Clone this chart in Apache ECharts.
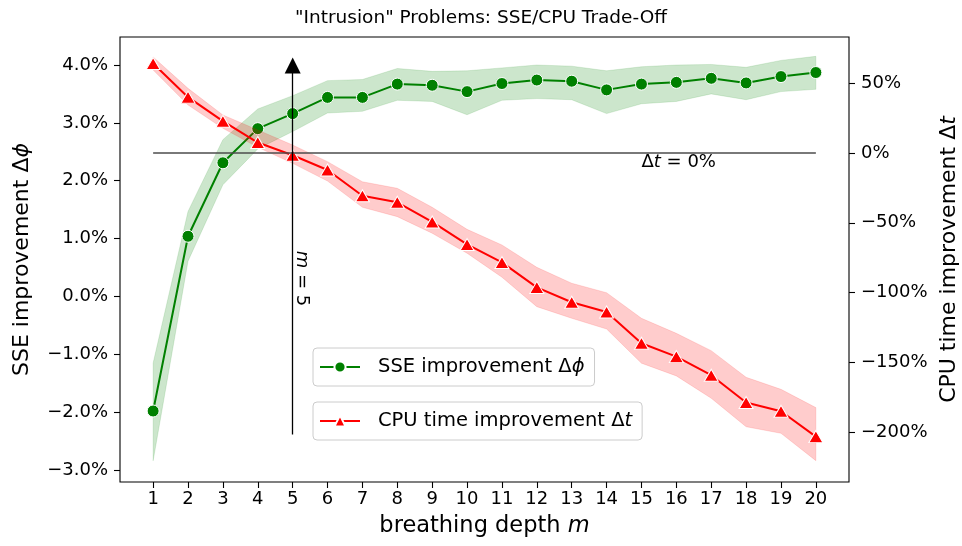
<!DOCTYPE html>
<html>
<head>
<meta charset="utf-8">
<script src="https://cdn.jsdelivr.net/npm/echarts@6/dist/echarts.min.js"></script>
<style>
  html, body { margin: 0; padding: 0; background: #fff; }
  #chart { width: 962px; height: 546px; }
</style>
</head>
<body>
<div id="chart"></div>
<script>
// ---- data ----
const depth = [1,2,3,4,5,6,7,8,9,10,11,12,13,14,15,16,17,18,19,20];
const sseMean  = [-1.98, 1.04, 2.31, 2.90, 3.16, 3.44, 3.44, 3.67, 3.65, 3.54, 3.68, 3.74, 3.72, 3.57, 3.67, 3.70, 3.77, 3.69, 3.80, 3.87];
const sseUpper = [-1.15, 1.47, 2.71, 3.24, 3.47, 3.73, 3.75, 3.94, 3.89, 3.90, 3.95, 4.00, 3.98, 3.90, 3.97, 4.00, 4.01, 3.96, 4.08, 4.15];
const sseLower = [-2.84, 0.61, 1.93, 2.55, 2.85, 3.17, 3.20, 3.39, 3.37, 3.14, 3.39, 3.42, 3.40, 3.16, 3.33, 3.37, 3.50, 3.40, 3.54, 3.58];
const cpuMean  = [64.1, 40.0, 22.8, 7.5, -1.6, -12.2, -30.6, -35.3, -49.4, -65.5, -78.4, -96.3, -106.9, -113.9, -136.3, -145.9, -159.2, -178.7, -185.0, -203.2];
const cpuUpper = [68.8, 46.3, 27.2, 16.5, 5.7, -6.2, -20.6, -25.3, -38.9, -54.7, -65.9, -81.9, -93.3, -100.1, -118.4, -129.2, -141.6, -160.7, -169.3, -182.4];
const cpuLower = [59.5, 34.4, 17.7, 4.1, -7.4, -20.1, -38.9, -45.6, -57.5, -71.8, -89.0, -110.1, -118.4, -126.1, -150.6, -159.7, -175.7, -196.1, -200.8, -220.4];

const xTicks = depth;
const sseTicks = [-3, -2, -1, 0, 1, 2, 3, 4];
const cpuTicks = [-200, -150, -100, -50, 0, 50];

const sseName = 'SSE improvement Δϕ';
const cpuName = 'CPU time improvement Δt';
const titleText = '"Intrusion" Problems: SSE/CPU Trade-Off';

// annotations (data coordinates)
const markDepth = 5;
const arrowFrom = -2.385, arrowTo = 3.99;
const zeroLineFrom = 1, zeroLineTo = 20, zeroValue = 0;
const zeroLabelAt = [15, -6.4];
const depthLabelAt = [5.26, 0.31];

// ---- build ----
const pair = (xs, ys) => xs.map((x, i) => [x, ys[i]]);
const minus = v => (v < 0 ? '\u2212' : '') + Math.abs(v);

const FONT = 'DejaVu Sans';
const GREEN = '#008000';
const RED = '#ff0000';

function bandSeries(name, yAxisIndex, lower, upper, fill, edge, z) {
  return {
    name, type: 'custom', xAxisIndex: 0, yAxisIndex, silent: true, z,
    data: depth.map((x, i) => [x, lower[i], upper[i]]),
    encode: { x: 0, y: [1, 2] },
    clip: true,
    renderItem: (params, api) => {
      if (params.dataIndex !== 0) return { type: 'group', children: [] };
      const top = depth.map((x, i) => api.coord([x, upper[i]]));
      const bot = depth.map((x, i) => api.coord([x, lower[i]])).reverse();
      return {
        type: 'polygon',
        shape: { points: top.concat(bot) },
        style: { fill: fill, stroke: edge, lineWidth: 1 }
      };
    }
  };
}

const chart = echarts.init(document.getElementById('chart'), null, { renderer: 'canvas' });

const legendText = () => ({
  fontFamily: FONT, fontSize: 19.5, color: '#000', padding: [0, 0, 0, 13],
  rich: {
    r: { fontFamily: FONT, fontSize: 19.5, color: '#000' },
    i: { fontFamily: FONT, fontSize: 19.5, fontStyle: 'italic', color: '#000' }
  }
});

const noteRich = {
  u: { fontFamily: FONT, fontSize: 18, color: '#000', opacity: 1 },
  i: { fontFamily: FONT, fontSize: 18, fontStyle: 'italic', color: '#000', opacity: 1 }
};

const option = {
  animation: false,
  backgroundColor: '#fff',
  textStyle: { fontFamily: FONT, color: '#000' },
  title: {
    text: titleText,
    left: 'center',
    top: 9,
    padding: 0,
    textStyle: { fontFamily: FONT, fontSize: 18.5, fontWeight: 'normal', color: '#000' }
  },
  grid: {
    left: 120, right: 113, top: 37, bottom: 64,
    show: true, borderColor: '#000', borderWidth: 1.1, backgroundColor: 'transparent',
    containLabel: false, outerBoundsMode: 'none'
  },
  legend: [
    {
      data: [sseName],
      left: 313, top: 348,
      orient: 'vertical',
      padding: [9, 10, 9, 6],
      itemWidth: 40, itemHeight: 14,
      backgroundColor: 'rgba(255,255,255,0.8)',
      borderColor: '#cccccc', borderWidth: 1, borderRadius: 4,
      selectedMode: false,
      formatter: () => '{r|SSE improvement Δ}{i|ϕ}',
      textStyle: legendText()
    },
    {
      data: [cpuName],
      left: 313, top: 402,
      orient: 'vertical',
      padding: [9, 10, 9, 6],
      itemWidth: 40, itemHeight: 14,
      backgroundColor: 'rgba(255,255,255,0.8)',
      borderColor: '#cccccc', borderWidth: 1, borderRadius: 4,
      selectedMode: false,
      formatter: () => '{r|CPU time improvement Δ}{i|t}',
      textStyle: legendText()
    }
  ],
  xAxis: {
    type: 'value',
    min: 0.05, max: 20.95,
    name: '{r|breathing depth }{i|m}',
    nameLocation: 'middle',
    nameGap: 33,
    nameTextStyle: {
      fontFamily: FONT, fontSize: 22.5, color: '#000',
      rich: {
        r: { fontFamily: FONT, fontSize: 22.5, color: '#000' },
        i: { fontFamily: FONT, fontSize: 22.5, fontStyle: 'italic', color: '#000' }
      }
    },
    axisLine: { show: false, onZero: false },
    splitLine: { show: false },
    axisTick: { show: true, length: 6, lineStyle: { color: '#000', width: 1.1 }, customValues: xTicks },
    axisLabel: { show: true, margin: 8, fontFamily: FONT, fontSize: 18, color: '#000', customValues: xTicks,
      formatter: v => String(v) }
  },
  yAxis: [
    {
      type: 'value',
      position: 'left',
      min: -3.207, max: 4.484,
      name: '{r|SSE improvement Δ}{i|ϕ}',
      nameLocation: 'middle',
      nameGap: 87,
      nameTextStyle: {
        fontFamily: FONT, fontSize: 22, color: '#000',
        rich: {
          r: { fontFamily: FONT, fontSize: 22, color: '#000' },
          i: { fontFamily: FONT, fontSize: 22, fontStyle: 'italic', color: '#000' }
        }
      },
      axisLine: { show: false, onZero: false },
      splitLine: { show: false },
      axisTick: { show: true, length: 6, lineStyle: { color: '#000', width: 1.1 }, customValues: sseTicks },
      axisLabel: { show: true, margin: 12, fontFamily: FONT, fontSize: 18, color: '#000', customValues: sseTicks,
        formatter: v => (v < 0 ? '\u2212' : '') + Math.abs(v).toFixed(1) + '%' }
    },
    {
      type: 'value',
      position: 'right',
      min: -235.7, max: 83.1,
      name: '{r|CPU time improvement Δ}{i|t}',
      nameLocation: 'middle',
      nameGap: 89,
      nameRotate: 90,
      nameTextStyle: {
        fontFamily: FONT, fontSize: 22, color: '#000',
        rich: {
          r: { fontFamily: FONT, fontSize: 22, color: '#000' },
          i: { fontFamily: FONT, fontSize: 22, fontStyle: 'italic', color: '#000' }
        }
      },
      axisLine: { show: false, onZero: false },
      splitLine: { show: false },
      axisTick: { show: true, length: 6, lineStyle: { color: '#000', width: 1.1 }, customValues: cpuTicks },
      axisLabel: { show: true, margin: 12, fontFamily: FONT, fontSize: 18, color: '#000', customValues: cpuTicks,
        formatter: v => minus(v) + '%' }
    }
  ],
  series: [
    bandSeries('sseBand', 0, sseLower, sseUpper, 'rgba(0,128,0,0.2)', 'rgba(0,128,0,0.12)', 1),
    {
      name: sseName, type: 'line', xAxisIndex: 0, yAxisIndex: 0,
      data: pair(depth, sseMean),
      symbol: 'circle', symbolSize: 12,
      lineStyle: { color: GREEN, width: 2 },
      itemStyle: { color: GREEN, borderColor: '#fff', borderWidth: 1 },
      z: 2
    },
    bandSeries('cpuBand', 1, cpuLower, cpuUpper, 'rgba(255,0,0,0.2)', 'rgba(255,0,0,0.12)', 3),
    {
      name: cpuName, type: 'line', xAxisIndex: 0, yAxisIndex: 1,
      data: pair(depth, cpuMean),
      symbol: 'triangle', symbolSize: [14, 12],
      lineStyle: { color: RED, width: 2 },
      itemStyle: { color: RED, borderColor: '#fff', borderWidth: 1 },
      z: 4
    },
    {
      name: 'zeroNote', type: 'scatter', xAxisIndex: 0, yAxisIndex: 1,
      data: [zeroLabelAt], symbolSize: 0.1, silent: true,
      itemStyle: { color: '#000', opacity: 0 },
      label: {
        show: true, position: 'right', distance: 0, color: '#000', opacity: 1,
        formatter: () => '{u|Δ}{i|t}{u| = 0%}',
        rich: noteRich
      },
      markLine: {
        silent: true, symbol: ['none', 'none'],
        label: { show: false },
        lineStyle: { color: '#4d4d4d', width: 1.5, type: 'solid', opacity: 1 },
        data: [[{ coord: [zeroLineFrom, zeroValue] }, { coord: [zeroLineTo, zeroValue] }]]
      },
      z: 5
    },
    {
      name: 'depthNote', type: 'scatter', xAxisIndex: 0, yAxisIndex: 0,
      data: [depthLabelAt], symbolSize: 0.1, silent: true,
      itemStyle: { color: '#000', opacity: 0 },
      label: {
        show: true, position: 'inside', rotate: -90, color: '#000', opacity: 1,
        formatter: () => '{i|m}{u| = 5}',
        rich: noteRich
      },
      markLine: {
        silent: true, symbol: ['none', 'triangle'], symbolSize: 16,
        label: { show: false },
        lineStyle: { color: '#000', width: 1.3, type: 'solid', opacity: 1 },
        itemStyle: { color: '#000', opacity: 1 },
        data: [[{ coord: [markDepth, arrowFrom] }, { coord: [markDepth, arrowTo] }]]
      },
      z: 6
    }
  ]
};

chart.setOption(option);
</script>
</body>
</html>
